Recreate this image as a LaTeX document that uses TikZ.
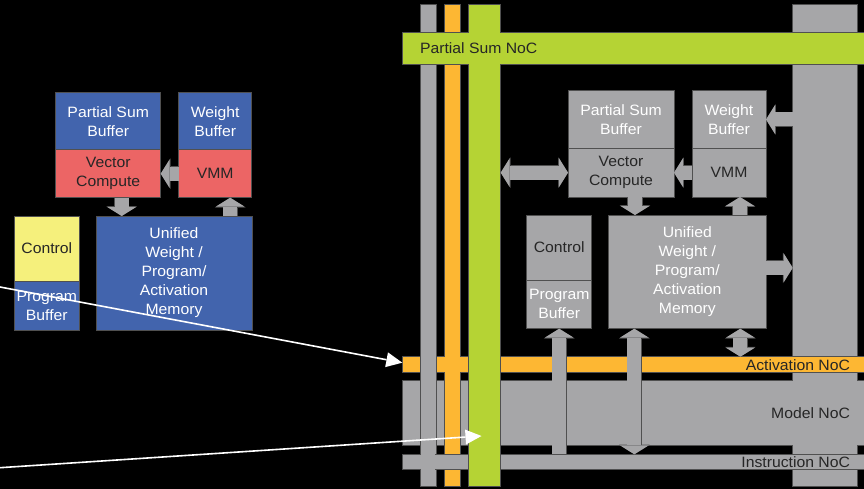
\documentclass[tikz,border=0pt]{standalone}
\usepackage{fontspec}
\setmainfont[FakeStretch=1.05]{Liberation Sans}
\usepackage{tikz}
\usetikzlibrary{arrows.meta,positioning,calc}

\definecolor{tileblue}{HTML}{4264AD}
\definecolor{tilered}{HTML}{EC6565}
\definecolor{tileyellow}{HTML}{F5F07C}
\definecolor{nocgray}{HTML}{A6A6A8}
\definecolor{nocorange}{HTML}{FDB733}
\definecolor{nocgreen}{HTML}{B5D334}
\definecolor{edge}{HTML}{505050}
\definecolor{ink}{HTML}{262626}

\begin{document}
\begin{tikzpicture}[
    x=1pt, y=-1pt,
    every node/.style={inner sep=0pt, outer sep=0pt},
    blk/.style={rectangle, draw=edge, line width=0.6pt, align=center, font=\fontsize{15}{19}\selectfont},
    noc/.style={rectangle, draw=edge, line width=0.6pt, anchor=north west},
    noclbl/.style={font=\fontsize{15}{19}\selectfont, text=ink},
    flow/.style={draw=nocgray, line width=14pt, -{Triangle[width=29pt, length=9pt, line width=0pt]},
        preaction={draw=edge, line width=15.2pt, -{Triangle[width=30.6pt, length=9.8pt, line width=0pt]}}},
    dflow/.style={draw=nocgray, line width=14pt, {Triangle[width=29pt, length=9pt, line width=0pt]}-{Triangle[width=29pt, length=9pt, line width=0pt]},
        preaction={draw=edge, line width=15.2pt, {Triangle[width=30.6pt, length=9.8pt, line width=0pt]}-{Triangle[width=30.6pt, length=9.8pt, line width=0pt]}}},
    ptr/.style={draw=white, line width=1.6pt, -{Triangle[width=15pt, length=16pt, line width=0pt]}}
]
\fill[black] (0,0) rectangle (864,489);
\useasboundingbox (0,0) rectangle (864,489);

% left tile
\node (lpsb) [blk, fill=tileblue, text=white, minimum width=105pt, minimum height=57pt, anchor=north west] at (55.7,92.7) {Partial Sum\\Buffer};
\node (lvc) [blk, fill=tilered, text=ink, minimum width=105pt, minimum height=48pt, below=0pt of lpsb] {Vector\\Compute};
\node (lwb) [blk, fill=tileblue, text=white, minimum width=73pt, minimum height=57pt, right=18pt of lpsb] {Weight\\Buffer};
\node (lvmm) [blk, fill=tilered, text=ink, minimum width=73pt, minimum height=48pt, below=0pt of lwb] {VMM};
\node (lctl) [blk, fill=tileyellow, text=ink, minimum width=65pt, minimum height=65pt, anchor=north west] at (14.3,216) {Control};
\node (lpb) [blk, fill=tileblue, text=white, minimum width=65pt, minimum height=49pt, below=0pt of lctl] {Program\\Buffer};
\node (lum) [blk, fill=tileblue, text=white, minimum width=156pt, minimum height=114pt, anchor=north west] at (96,216) {Unified\\Weight /\\Program/\\Activation\\Memory};

\coordinate (ldn) at ($(lvc.south)+(13.5pt,0)$);
\coordinate (lup) at ($(lvmm.south)+(15pt,0)$);
\draw[flow] (lvmm.west) -- (lvc.east);
\draw[flow] (ldn) -- (ldn |- lum.north);
\draw[flow] (lup |- lum.north) -- (lup);

% network on chip
\node (rc) [noc, fill=nocgray, minimum width=65pt, minimum height=481.3pt] at (792.7,4.7) {};
\node (modnoc) [noc, fill=nocgray, minimum width=461.7pt, minimum height=64.7pt] at (402.3,380.3) {};
\fill[nocgray] ([shift={(0.6pt,-0.6pt)}]rc.north west) rectangle ([shift={(-0.6pt,0.6pt)}]rc.south east);
\fill[nocgray] ([shift={(0.6pt,-0.6pt)}]modnoc.north west) rectangle ([shift={(-0.6pt,0.6pt)}]modnoc.south east);
\node (actnoc) [noc, fill=nocorange, minimum width=461.7pt, minimum height=16pt] at (402.3,356.7) {};
\node (ov) [noc, fill=nocorange, minimum width=16pt, minimum height=481.3pt] at (444.3,4.7) {};
\fill[nocorange] ($(ov.west |- actnoc.north)+(-1pt,-0.6pt)$) rectangle ($(ov.east |- actnoc.south)+(1pt,0.6pt)$);
\node (gv) [noc, fill=nocgray, minimum width=16pt, minimum height=481.3pt] at (420,4.7) {};
\node (insnoc) [noc, fill=nocgray, minimum width=461.7pt, minimum height=15.4pt] at (402.3,454.3) {};
\fill[nocgray] ($(gv.west |- insnoc.north)+(0.6pt,1pt)$) rectangle ($(gv.east |- insnoc.south)+(-0.6pt,-1pt)$);
\node (psnoc) [noc, fill=nocgreen, minimum width=461.7pt, minimum height=32pt] at (402.3,32.3) {};
\node (gnv) [noc, fill=nocgreen, minimum width=32.4pt, minimum height=481.3pt] at (468.3,4.7) {};
\fill[nocgreen] ($(gnv.west |- psnoc.north)+(-1pt,-0.6pt)$) rectangle ($(gnv.east |- psnoc.south)+(1pt,0.6pt)$);

% right tile
\node (rpsb) [blk, fill=nocgray, text=white, minimum width=106pt, minimum height=57.6pt, anchor=north west] at (568,90.7) {Partial Sum\\Buffer};
\node (rvc) [blk, fill=nocgray, text=ink, minimum width=106pt, minimum height=48.7pt, below=0pt of rpsb] {Vector\\Compute};
\node (rwb) [blk, fill=nocgray, text=white, minimum width=74pt, minimum height=57.6pt, right=18pt of rpsb] {Weight\\Buffer};
\node (rvmm) [blk, fill=nocgray, text=ink, minimum width=74pt, minimum height=48.7pt, below=0pt of rwb] {VMM};
\node (rctl) [blk, fill=nocgray, text=ink, minimum width=65pt, minimum height=65pt, anchor=north west] at (526.7,215) {Control};
\node (rpb) [blk, fill=nocgray, text=white, minimum width=65pt, minimum height=48.7pt, below=0pt of rctl] {Program\\Buffer};
\node (rum) [blk, fill=nocgray, text=white, minimum width=157.3pt, minimum height=113.7pt, anchor=north west] at (608.7,215) {Unified\\Weight /\\Program/\\Activation\\Memory};

\coordinate (rdn) at ($(rvc.south)+(14pt,0)$);
\coordinate (rup) at ($(rvmm.south)+(11pt,0)$);
\coordinate (rout) at ($(rum.east)+(0,4pt)$);
\coordinate (rmi) at ($(rum.south)+(-53pt,0)$);
\coordinate (rma) at ($(rum.south)+(53pt,0)$);
\draw[dflow] (gnv.east |- rvc.west) -- (rvc.west);
\draw[flow] (rvmm.west) -- (rvc.east);
\draw[flow] (rc.west |- rwb.east) -- (rwb.east);
\draw[flow] (rdn) -- (rdn |- rum.north);
\draw[flow] (rup |- rum.north) -- (rup);
\draw[flow] (rout) -- (rout -| rc.west);
\draw[flow] (rpb.south |- insnoc.north) -- (rpb.south);
\draw[dflow] (rmi) -- (rmi |- insnoc.north);
\draw[dflow] (rma) -- (rma |- actnoc.north);

% labels
\node (pslbl) [noclbl, right=17.7pt of psnoc.west] {Partial Sum NoC};
\node (actlbl) [noclbl, left=14pt of actnoc.east] {Activation NoC};
\node (modlbl) [noclbl, left=14pt of modnoc.east] {Model NoC};
\node (inslbl) [noclbl, left=14pt of insnoc.east] {Instruction NoC};

% pointers
\coordinate (src1) at (0,287);
\coordinate (src2) at (0,467.7);
\coordinate (tgt2) at (481.5,436);
\draw[ptr] (src1) -- ([yshift=2pt]actnoc.west);
\draw[ptr] (src2) -- (tgt2);
\end{tikzpicture}
\end{document}
